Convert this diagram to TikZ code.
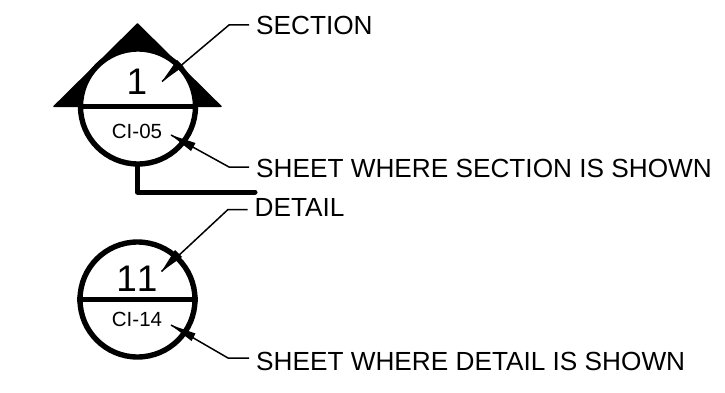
\documentclass[tikz,border=0pt]{standalone}
\usepackage{fontspec}
\setmainfont{Liberation Sans}
\usetikzlibrary{arrows.meta}
\tikzset{
  bubble/.style={draw=black,line width=5.4pt,circle,minimum size=115pt,inner sep=0pt,fill=white},
  divider/.style={draw=black,line width=4.6pt},
  stem/.style={draw=black,line width=5pt,line join=round,line cap=round},
  leader/.style={draw=black,line width=1.5pt,line join=miter},
  wedge/.style={fill=black,draw=none},
  lab/.style={anchor=base west,inner sep=0pt,font=\fontsize{26.2}{26.2}\selectfont},
  big/.style={anchor=base,inner sep=0pt,font=\fontsize{37}{37}\selectfont},
  small/.style={anchor=base,inner sep=0pt,font=\fontsize{20.5}{20.5}\selectfont}
}
\begin{document}
\begin{tikzpicture}[x=1pt,y=-1pt]
\useasboundingbox (0,0) rectangle (725,393);
% section marker
\fill[black,line join=round,draw=black,line width=1.5pt] (137.5,24) -- (221,106.5) -- (54,106.5) -- cycle;
\draw[stem] (137.5,162) -- (137.5,192) -- (255,192);
\node[bubble] (c1) at (138,106.5) {};
\draw[divider] (c1.west) -- (c1.east);
\node[big] (n1) at (137,95) {1};
\node[small] (s1) at (137,139) {CI-05};
% detail marker
\node[bubble] (c2) at (137.5,299.5) {};
\draw[divider] (c2.west) -- (c2.east);
\node[big] (n2) at (137,291) {\addfontfeature{Kerning=Off}11};
\node[small] (s2) at (137,326.5) {CI-14};
% labels
\node[lab] (l1) at (256,34.7) {SECTION};
\node[lab] (l2) at (256,177.3) {SHEET WHERE SECTION IS SHOWN};
\node[lab] (l3) at (254.5,216.7) {DETAIL};
\node[lab] (l4) at (256,370) {SHEET WHERE DETAIL IS SHOWN};
% leaders
\coordinate (k1) at (229,25); \coordinate (t1) at (162,81.5);
\coordinate (k2) at (229,167); \coordinate (t2) at (171,135);
\coordinate (k3) at (228,209.5); \coordinate (t3) at (161.5,271.5);
\coordinate (k4) at (228,358); \coordinate (t4) at (171,325);
\draw[leader] (l1.base west) ++(-7,-9.7) -- (k1) -- (t1);
\draw[leader] (l2.base west) ++(-7,-10.3) -- (k2) -- (t2);
\draw[leader] (l3.base west) ++(-7,-7.2) -- (k3) -- (t3);
\draw[leader] (l4.base west) ++(-7,-12) -- (k4) -- (t4);
% arrow wedges
\fill[wedge] (t1) -- (183.5,66.5) -- (177,60) -- cycle;
\fill[wedge] (t2) -- (191,151) -- (195.5,143) -- cycle;
\fill[wedge] (t3) -- (182,257) -- (175,250) -- cycle;
\fill[wedge] (t4) -- (191.5,341) -- (195.5,333.5) -- cycle;
\end{tikzpicture}
\end{document}
